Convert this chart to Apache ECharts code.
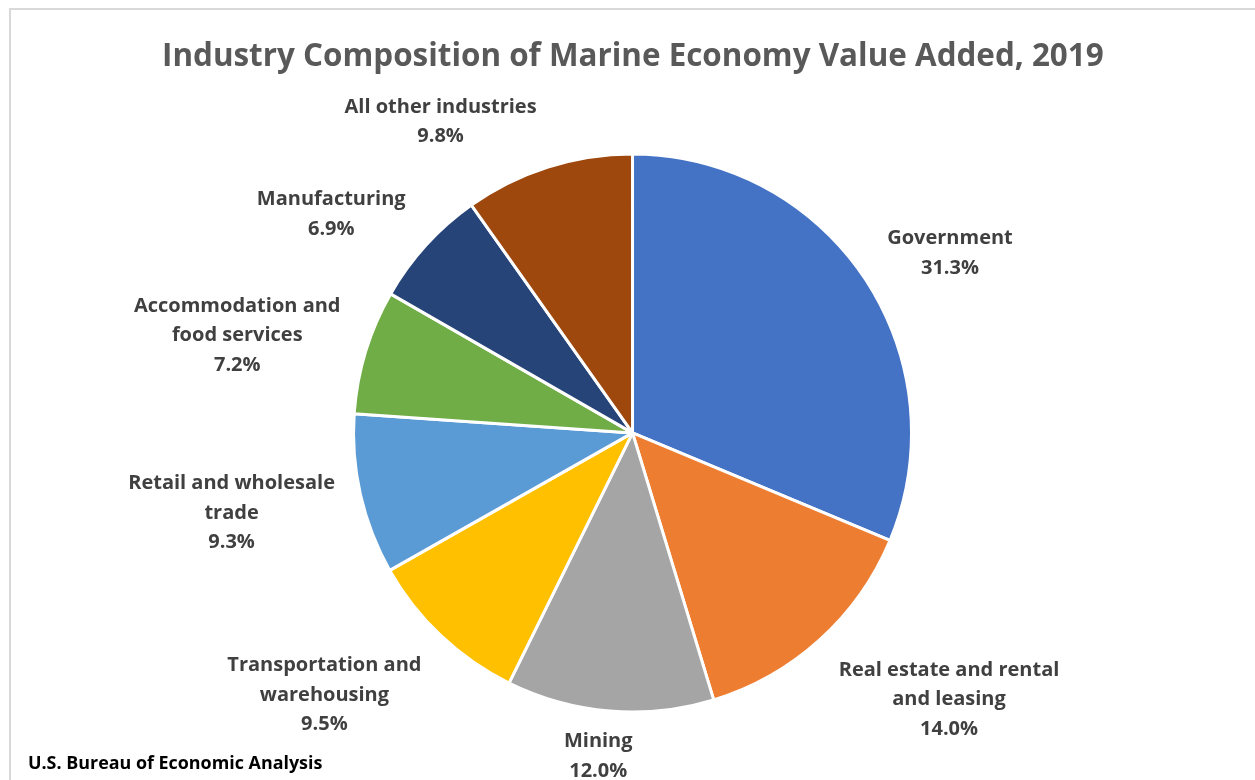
<!DOCTYPE html>
<html>
<head>
<meta charset="utf-8">
<script src="https://cdn.jsdelivr.net/npm/echarts@6/dist/echarts.min.js"></script>
<style>
  html, body { margin: 0; padding: 0; background: #ffffff; overflow: hidden; }
  #wrap { position: relative; width: 1255px; height: 780px; }
  #frame { position: absolute; left: 9px; top: 8px; width: 1400px; height: 900px;
           border-left: 2px solid #d9d9d9; border-top: 2px solid #d9d9d9; box-sizing: border-box; }
  #chart { position: absolute; left: 0; top: 0; width: 1255px; height: 780px; }
</style>
</head>
<body>
<div id="wrap">
  <div id="frame"></div>
  <div id="chart"></div>
</div>
<script>
const titleText = 'Industry Composition of Marine Economy Value Added, 2019';
const sourceText = 'U.S. Bureau of Economic Analysis';
const categories = [
  'Government',
  'Real estate and rental\nand leasing',
  'Mining',
  'Transportation and\nwarehousing',
  'Retail and wholesale\ntrade',
  'Accommodation and\nfood services',
  'Manufacturing',
  'All other industries'
];
const shares = [31.3, 14.0, 12.0, 9.5, 9.3, 7.2, 6.9, 9.8];
const colors = ['#4472C4', '#ED7D31', '#A5A5A5', '#FFC000', '#5B9BD5', '#70AD47', '#264478', '#9E480E'];

const FONT = '"Open Sans", Lato, sans-serif';
const CENTER = ['50.4%', '55.5%'];
const RADIUS = 279;
const LABEL_GAP = 21;

const chart = echarts.init(document.getElementById('chart'), null, { renderer: 'canvas' });

const total = shares.reduce((a, b) => a + b, 0);
const mids = [];
{
  let cum = 0;
  shares.forEach(v => { mids.push((cum + v / 2) / total * Math.PI * 2); cum += v; });
}
const clamp = (v) => Math.max(-1, Math.min(1, v));

const option = {
  backgroundColor: 'transparent',
  animation: false,
  color: colors,
  title: [
    {
      text: titleText,
      left: 157,
      top: 37,
      textStyle: { fontFamily: FONT, fontWeight: 'bold', fontSize: 31.4, color: '#595959' }
    },
    {
      text: sourceText,
      left: 23,
      top: 750,
      textStyle: { fontFamily: FONT, fontWeight: 'bold', fontSize: 17.9, color: '#000000' }
    }
  ],
  series: [{
    type: 'pie',
    center: CENTER,
    radius: RADIUS,
    startAngle: 90,
    clockwise: true,
    avoidLabelOverlap: false,
    itemStyle: { borderColor: '#ffffff', borderWidth: 3 },
    label: {
      show: true,
      position: 'outside',
      fontFamily: FONT,
      fontWeight: 'bold',
      fontSize: 20,
      lineHeight: 29.5,
      color: '#404040',
      align: 'center',
      formatter: (p) => p.name + '\n' + shares[p.dataIndex].toFixed(1) + '%'
    },
    labelLine: { show: false },
    emphasis: { disabled: true },
    labelLayout: (params) => {
      const w = chart.getWidth(), h = chart.getHeight();
      const cx = parseFloat(CENTER[0]) / 100 * w;
      const cy = parseFloat(CENTER[1]) / 100 * h;
      const a = mids[params.dataIndex];
      const dx = Math.sin(a), dy = -Math.cos(a);
      const ax = cx + (RADIUS + LABEL_GAP) * dx;
      const ay = cy + (RADIUS + LABEL_GAP) * dy;
      const r = params.labelRect;
      let y = ay + r.height / 2 * clamp(dy * (dy > 0 ? 1.4 : 1.0)) + (dy > 0 ? 0 : 3);
      y = Math.min(y, h + 6 - r.height / 2);
      const padX = Math.abs(dx) > 0.3 ? 5 * Math.sign(dx) : 0;
      return {
        x: ax + r.width / 2 * clamp(dx * 3.5) + padX,
        y: y,
        align: 'center',
        verticalAlign: 'middle'
      };
    },
    data: categories.map((c, i) => ({ name: c, value: shares[i] }))
  }]
};
chart.setOption(option);
</script>
</body>
</html>
